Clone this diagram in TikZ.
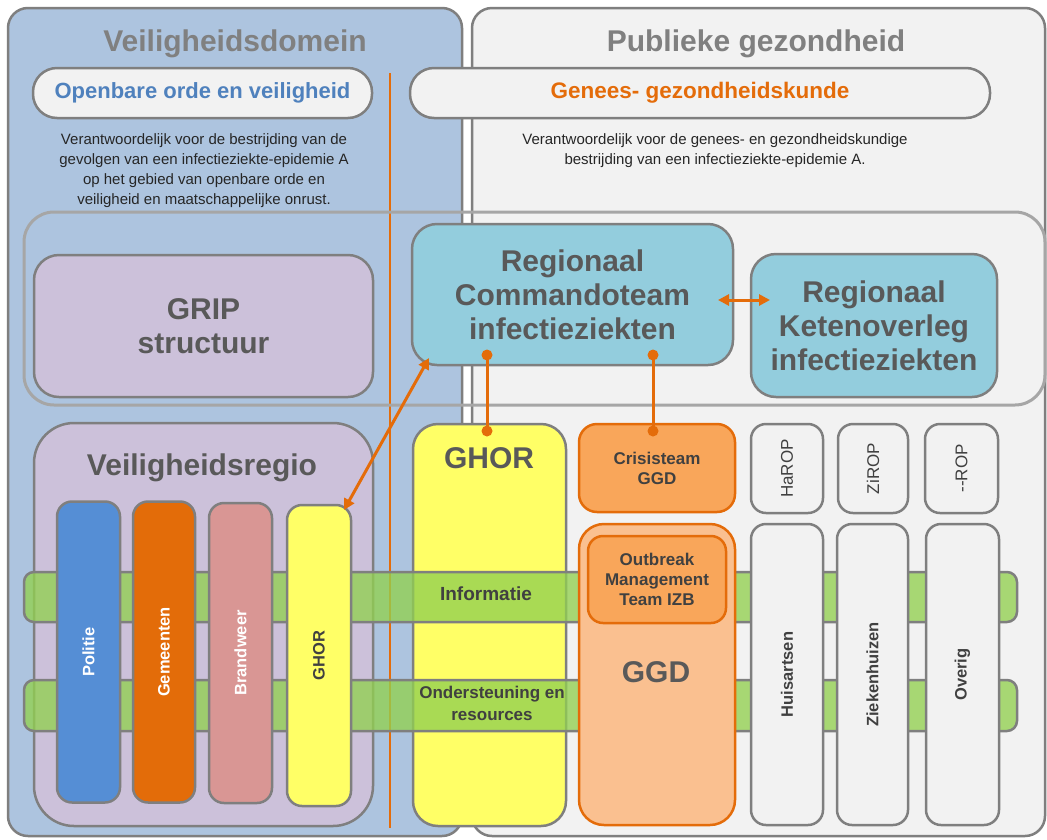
\documentclass[tikz,border=0pt]{standalone}
\usepackage{fontspec}
\setmainfont{Liberation Sans}
\usetikzlibrary{arrows.meta}
\definecolor{leftblue}{HTML}{ADC4DF}
\definecolor{rightgray}{HTML}{F2F2F2}
\definecolor{lavender}{HTML}{CCC1DA}
\definecolor{tealbox}{HTML}{93CDDD}
\definecolor{yellowbox}{HTML}{FFFF66}
\definecolor{orangeline}{HTML}{E46C0A}
\definecolor{ggdlight}{HTML}{FAC090}
\definecolor{ggdmid}{HTML}{F9A65A}
\definecolor{politiec}{HTML}{558ED5}
\definecolor{gemeentenc}{HTML}{E36C09}
\definecolor{brandweerc}{HTML}{D99694}
\definecolor{barGreen}{HTML}{92D050}
\definecolor{bordergray}{HTML}{7F7F7F}
\definecolor{widegray}{HTML}{A6A6A6}
\definecolor{titlegray}{HTML}{808080}
\definecolor{textdark}{HTML}{595959}
\definecolor{textdarker}{HTML}{404040}
\definecolor{blueTitle}{HTML}{4F81BD}
\tikzset{
  x=1pt, y=-1pt,
  gbox/.style={draw=bordergray, line width=2.5pt, inner sep=0pt, rounded corners=#1},
  gbox/.default=15pt,
  obox/.style={draw=orangeline, line width=2.5pt, inner sep=0pt, rounded corners=#1},
  obox/.default=15pt,
  paneltitle/.style={font=\bfseries\fontsize{30}{33}\selectfont, text=titlegray},
  bigtext/.style={font=\bfseries\fontsize{30}{34}\selectfont, text=textdark, align=center},
  midtext/.style={font=\bfseries\fontsize{17}{20}\selectfont, text=textdarker, align=center},
  desc/.style={font=\fontsize{15}{20}\selectfont, text=black!85, align=center},
  coltext/.style={font=\bfseries\fontsize{16.5}{18}\selectfont},
  roptext/.style={font=\fontsize{17}{18}\selectfont, text=textdarker},
  conn/.style={draw=orangeline, line width=3pt},
  dbl/.style={draw=orangeline, line width=3pt, {Triangle[width=11pt,length=11pt]}-{Triangle[width=11pt,length=11pt]}},
  bar/.style={draw=bordergray, line width=2.5pt, fill=barGreen, fill opacity=0.78, rounded corners=10pt, inner sep=0pt},
}
\begin{document}
\begin{tikzpicture}
\useasboundingbox (0,0) rectangle (1047,839);
\fill[white] (0,0) rectangle (1047,839);
% panels
\node[gbox=20pt, fill=leftblue, minimum width=454, minimum height=828] (lp) at (235,422) {};
\node[gbox=20pt, fill=rightgray, minimum width=573, minimum height=828] (rp) at (758.5,422) {};
\node[paneltitle] (lpt) at (235,44) {Veiligheidsdomein};
\node[paneltitle] (rpt) at (756,44) {Publieke gezondheid};
% header boxes
\node[gbox=24pt, fill=rightgray, minimum width=339, minimum height=50,
      font=\bfseries\fontsize{22}{24}\selectfont, text=blueTitle] (oov) at (202.5,93) {Openbare orde en veiligheid};
\node[gbox=24pt, fill=rightgray, minimum width=580, minimum height=50,
      font=\bfseries\fontsize{22.5}{24}\selectfont, text=orangeline] (ggk) at (700,93) {Genees- gezondheidskunde};
\node[desc] (dl) at (204,171) {Verantwoordelijk voor de bestrijding van de\\gevolgen van een infectieziekte-epidemie A\\op het gebied van openbare orde en\\veiligheid en maatschappelijke onrust.};
\node[desc] (dr) at (715,151) {Verantwoordelijk voor de genees- en gezondheidskundige\\bestrijding van een infectieziekte-epidemie A.};
% orange divider
\coordinate (ol1) at (390,73);
\coordinate (ol2) at (390,828);
\draw[orangeline, line width=2.5pt] (ol1) -- (ol2);
% wide regional frame
\node[draw=widegray, line width=3pt, rounded corners=30pt, inner sep=0pt, minimum width=1021, minimum height=193] (wide) at (534.5,308.5) {};
\node[gbox=25pt, fill=lavender, minimum width=339, minimum height=142, bigtext] (grip) at (203.5,326) {GRIP\\structuur};
\node[gbox=25pt, fill=tealbox, minimum width=321, minimum height=141, bigtext] (rc) at (572.5,294.5) {Regionaal\\Commandoteam\\infectieziekten};
\node[gbox=25pt, fill=tealbox, minimum width=246, minimum height=143, bigtext] (rk) at (874,325.5) {Regionaal\\Ketenoverleg\\infectieziekten};
% Veiligheidsregio
\node[gbox=40pt, fill=lavender, minimum width=339, minimum height=403] (vr) at (203.5,624.5) {};
\node[bigtext] (vrt) at (202,468) {Veiligheidsregio};
% big GHOR column
\node[gbox=25pt, fill=yellowbox, minimum width=153, minimum height=402] (ghor) at (489.5,625) {};
\node[font=\bfseries\fontsize{30}{33}\selectfont, text=textdark] (ghort) at (489,458) {GHOR};
% bars
\node[bar, minimum width=993, minimum height=50] (bar1) at (520.5,597) {};
\node[bar, minimum width=993, minimum height=51] (bar2) at (520.5,705.5) {};
\node[midtext, font=\bfseries\fontsize{19}{20}\selectfont] (inf) at (486,594) {Informatie};
\node[midtext, font=\bfseries\fontsize{17}{22}\selectfont] (ond) at (492,703) {Ondersteuning en\\resources};
% small columns in Veiligheidsregio
\node[gbox=15pt, fill=politiec, rotate=90, minimum width=301, minimum height=63, coltext, text=white] (pol) at (88.5,652) {Politie};
\node[gbox=15pt, fill=gemeentenc, rotate=90, minimum width=301, minimum height=62, coltext, text=white] (gem) at (164,652) {Gemeenten};
\node[gbox=15pt, fill=brandweerc, rotate=90, minimum width=300, minimum height=63, coltext, text=white] (brw) at (240.5,653) {Brandweer};
\node[gbox=15pt, fill=yellowbox, rotate=90, minimum width=301, minimum height=64, coltext, text=textdarker] (ghs) at (319,655.5) {GHOR};
% GGD
\node[obox=18pt, fill=ggdmid, minimum width=156, minimum height=88, midtext] (cri) at (657,468) {Crisisteam\\GGD};
\node[obox=25pt, fill=ggdlight, minimum width=156, minimum height=301] (ggd) at (657,674.5) {};
\node[obox=15pt, fill=ggdmid, minimum width=138, minimum height=87, midtext] (omt) at (657,579.5) {Outbreak\\Management\\Team IZB};
\node[font=\bfseries\fontsize{30}{33}\selectfont, text=textdark] (ggdt) at (656,672) {GGD};
% right columns
\node[gbox=15pt, fill=rightgray, rotate=90, minimum width=89, minimum height=72, roptext] (harop) at (787,468.5) {HaROP};
\node[gbox=15pt, fill=rightgray, rotate=90, minimum width=89, minimum height=70, roptext] (zirop) at (873,468.5) {ZiROP};
\node[gbox=15pt, fill=rightgray, rotate=90, minimum width=89, minimum height=73, roptext] (rop) at (961.5,468.5) {-{}-ROP};
\node[gbox=15pt, fill=rightgray, rotate=90, minimum width=301, minimum height=72, coltext, text=textdarker] (hua) at (787,674.5) {Huisartsen};
\node[gbox=15pt, fill=rightgray, rotate=90, minimum width=301, minimum height=71, coltext, text=textdarker] (zkh) at (872.5,674.5) {Ziekenhuizen};
\node[gbox=15pt, fill=rightgray, rotate=90, minimum width=301, minimum height=73, coltext, text=textdarker] (ovr) at (962.5,674.5) {Overig};
% connectors
\coordinate (c1a) at (487,355);
\coordinate (c1b) at (487,431);
\coordinate (c2a) at (653,355);
\coordinate (c2b) at (653,431);
\draw[conn] (c1a) -- (c1b);
\draw[conn] (c2a) -- (c2b);
\fill[orangeline] (c1a) circle (5.5pt) (c1b) circle (5.5pt) (c2a) circle (5.5pt) (c2b) circle (5.5pt);
\coordinate (a1) at (718,300);
\coordinate (a2) at (770,300);
\draw[dbl] (a1) -- (a2);
\coordinate (b1) at (344,510);
\coordinate (b2) at (429,358);
\draw[dbl] (b1) -- (b2);
\end{tikzpicture}
\end{document}
